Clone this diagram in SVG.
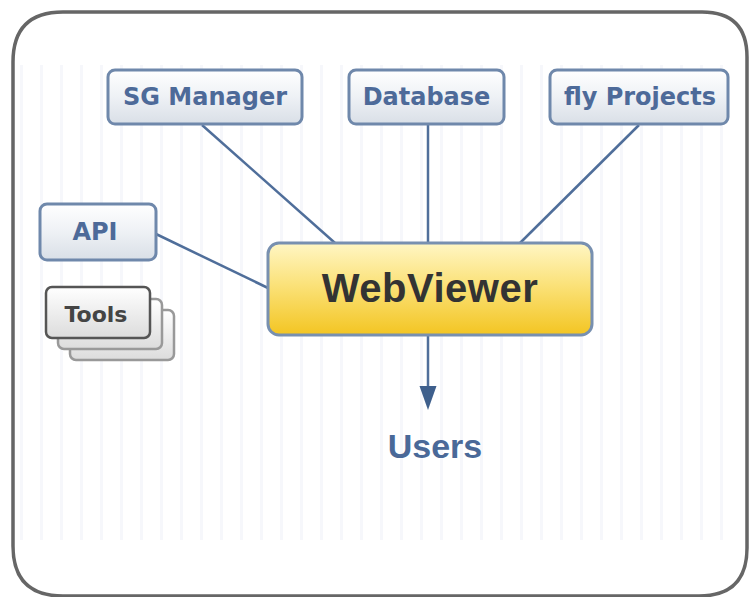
<svg xmlns="http://www.w3.org/2000/svg" width="750" height="597" viewBox="0 0 750 597">
<defs>
<linearGradient id="boxg" x1="0" y1="0" x2="0" y2="1">
<stop offset="0" stop-color="#ffffff"/>
<stop offset="0.5" stop-color="#eef1f5"/>
<stop offset="1" stop-color="#d9dfe7"/>
</linearGradient>
<linearGradient id="toolg" x1="0" y1="0" x2="0" y2="1">
<stop offset="0" stop-color="#ffffff"/>
<stop offset="1" stop-color="#dcdcdc"/>
</linearGradient>
<linearGradient id="wvg" x1="0" y1="0" x2="0" y2="1">
<stop offset="0" stop-color="#fff6c4"/>
<stop offset="0.45" stop-color="#fbe27a"/>
<stop offset="1" stop-color="#f3c522"/>
</linearGradient>
<pattern id="stripes" x="0" y="0" width="20" height="10" patternUnits="userSpaceOnUse">
<rect x="0" y="0" width="3" height="10" fill="#f6f7fb"/>
</pattern>
<style>
.box{fill:url(#boxg);stroke:#6f88ab;stroke-width:3}
.tool{fill:url(#toolg);stroke:#555;stroke-width:2.5}
.tool2{fill:url(#toolg);stroke:#999;stroke-width:2.5}
.lbl{font-family:"DejaVu Sans",Verdana,sans-serif;font-weight:bold;font-size:24px;fill:#4d6a99;text-anchor:middle}
.conn{stroke:#4f6e9a;stroke-width:2.5;fill:none}
</style>
</defs>
<rect width="750" height="597" fill="#ffffff"/>
<rect x="20" y="65" width="720" height="475" fill="url(#stripes)"/>
<path d="M13,546 L13,62 Q13,12 63,12 L702,12 Q747,12 747,57 L747,548 Q747,596 699,596 L63,596 Q13,596 13,546 Z" fill="none" stroke="#666" stroke-width="3.5"/>
<g id="connectors">
<line class="conn" x1="202" y1="125" x2="335" y2="243"/>
<line class="conn" x1="428" y1="125" x2="428" y2="243"/>
<line class="conn" x1="639" y1="125" x2="520" y2="243"/>
<line class="conn" x1="156" y1="234" x2="268" y2="288"/>
<line class="conn" x1="428" y1="336" x2="428" y2="390"/>
<path d="M419.5,386 L436.5,386 L428,410 Z" fill="#3e5f8c"/>
</g>
<g id="sg-manager">
<rect class="box" x="108" y="70" width="194" height="54" rx="7"/>
<text class="lbl" x="205" y="105">SG Manager</text>
</g>
<g id="database">
<rect class="box" x="349" y="70" width="155" height="54" rx="7"/>
<text class="lbl" x="426.5" y="105">Database</text>
</g>
<g id="fly-projects">
<rect class="box" x="550" y="70" width="178" height="54" rx="7"/>
<text class="lbl" x="640" y="105">fly Projects</text>
</g>
<g id="api">
<rect class="box" x="40" y="204" width="116" height="56" rx="7"/>
<text class="lbl" x="95" y="240">API</text>
</g>
<g id="tools">
<rect class="tool2" x="70" y="310" width="104" height="50" rx="6"/>
<rect class="tool2" x="58" y="299" width="104" height="50" rx="6"/>
<rect class="tool" x="46" y="287" width="104" height="51" rx="6"/>
<text x="96" y="322" font-family="DejaVu Sans,Verdana,sans-serif" font-weight="bold" font-size="22" fill="#444" text-anchor="middle">Tools</text>
</g>
<g id="webviewer">
<rect x="268" y="243" width="324" height="92" rx="11" fill="url(#wvg)" stroke="#7890b0" stroke-width="3"/>
<text x="430" y="302" font-family="Liberation Sans,Arial,sans-serif" font-weight="bold" font-size="40" fill="#333" text-anchor="middle" letter-spacing="0.5">WebViewer</text>
</g>
<g id="users">
<text x="435" y="458" font-family="Liberation Sans,Arial,sans-serif" font-weight="bold" font-size="34" fill="#4a6998" text-anchor="middle">Users</text>
</g>
</svg>
